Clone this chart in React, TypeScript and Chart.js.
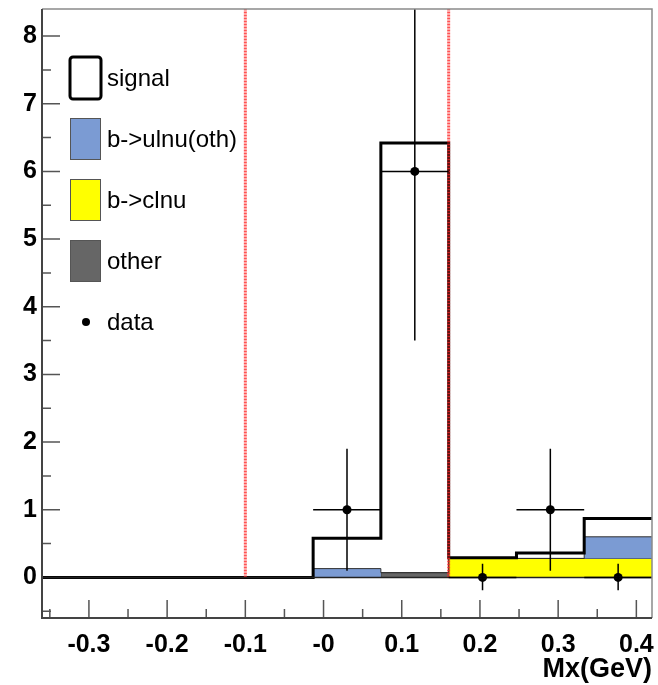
import React, { useEffect, useRef } from "react";
import { Chart, registerables } from "chart.js";
Chart.register(...registerables);

// ---- data ----
const binEdges = [-0.36, -0.2733, -0.1867, -0.1, -0.0133, 0.0733, 0.16, 0.2467, 0.3333, 0.42];
const clnu = [0, 0, 0, 0, 0, 0.005, 0.28, 0.28, 0.28];
const other = [0, 0, 0, 0, 0, 0.065, 0, 0, 0];
const ulnuOth = [0, 0, 0, 0, 0.13, 0, 0, 0, 0.32];
const signal = [0, 0, 0, 0, 0.45, 6.35, 0.01, 0.08, 0.27];

const dataX = [0.03, 0.1167, 0.2033, 0.29, 0.3767];
const dataY = [1, 6, 0, 1, 0];
const dataErrLow = [0.9, 2.5, 0.19, 0.9, 0.19];
const dataErrHigh = [0.9, 2.5, 0.2, 0.9, 0.2];
const dataXErr = [0.0433, 0.0433, 0.0433, 0.0433, 0.0433];

const cutLines = [-0.1, 0.16];

const xTickValues = [-0.3, -0.2, -0.1, 0, 0.1, 0.2, 0.3, 0.4];
const xTickLabels = ["-0.3", "-0.2", "-0.1", "-0", "0.1", "0.2", "0.3", "0.4"];
const xMinorTicks = [-0.35, -0.25, -0.15, -0.05, 0.05, 0.15, 0.25, 0.35];
const yTickValues = [0, 1, 2, 3, 4, 5, 6, 7, 8];
const yTickLabels = ["0", "1", "2", "3", "4", "5", "6", "7", "8"];
const yMinorTicks = [-0.5, 0.5, 1.5, 2.5, 3.5, 4.5, 5.5, 6.5, 7.5];

const legendLabels = ["signal", "b->ulnu(oth)", "b->clnu", "other", "data"];
const xTitle = "Mx(GeV)";

const X_MIN = -0.36, X_MAX = 0.42, Y_MIN = -0.6, Y_MAX = 8.4;

const COL_BLUE = "#7b9bd3";
const COL_YELLOW = "#ffff00";
const COL_GRAY = "#666666";

function cumulative(...layers: number[][]) {
  return layers[0].map((_, i) => layers.reduce((s, l) => s + l[i], 0));
}
function stepData(vals: number[]) {
  return binEdges.map((x, i) => ({ x, y: vals[Math.min(i, vals.length - 1)] }));
}

const FONT = '"Liberation Sans", Arial, Helvetica, sans-serif';

const decorPlugin = {
  id: "decor",
  beforeDatasetsDraw(chart: any) {
    const { ctx, chartArea: a, scales } = chart;
    const xs = scales.x, ys = scales.y;
    ctx.save();
    ctx.strokeStyle = "#555";
    ctx.lineWidth = 1.5;
    ctx.beginPath();
    yTickValues.forEach((v) => {
      const p = ys.getPixelForValue(v);
      ctx.moveTo(a.left, p);
      ctx.lineTo(a.left + 18, p);
    });
    yMinorTicks.forEach((v) => {
      const p = ys.getPixelForValue(v);
      ctx.moveTo(a.left, p);
      ctx.lineTo(a.left + 9, p);
    });
    xTickValues.forEach((v) => {
      const p = xs.getPixelForValue(v);
      ctx.moveTo(p, a.bottom);
      ctx.lineTo(p, a.bottom - 18);
    });
    xMinorTicks.forEach((v) => {
      const p = xs.getPixelForValue(v);
      ctx.moveTo(p, a.bottom);
      ctx.lineTo(p, a.bottom - 9);
    });
    ctx.stroke();
    ctx.restore();
  },
  afterDatasetsDraw(chart: any) {
    const { ctx, chartArea: a, scales } = chart;
    const xs = scales.x, ys = scales.y;
    ctx.save();
    ctx.beginPath();
    ctx.rect(a.left, a.top, a.right - a.left, a.bottom - a.top);
    ctx.clip();
    // zero line
    ctx.strokeStyle = "#222";
    ctx.lineWidth = 1.5;
    const y0 = ys.getPixelForValue(0);
    ctx.beginPath();
    ctx.moveTo(a.left, y0);
    ctx.lineTo(a.right, y0);
    ctx.stroke();
    // error bars
    ctx.strokeStyle = "#000";
    ctx.lineWidth = 1.5;
    dataX.forEach((x, i) => {
      const px = xs.getPixelForValue(x);
      const py = ys.getPixelForValue(dataY[i]);
      ctx.beginPath();
      ctx.moveTo(xs.getPixelForValue(x - dataXErr[i]), py);
      ctx.lineTo(xs.getPixelForValue(x + dataXErr[i]), py);
      ctx.moveTo(px, ys.getPixelForValue(dataY[i] - dataErrLow[i]));
      ctx.lineTo(px, ys.getPixelForValue(dataY[i] + dataErrHigh[i]));
      ctx.stroke();
    });
    ctx.restore();
  },
  afterDraw(chart: any) {
    const { ctx, chartArea: a } = chart;
    ctx.save();
    // frame
    ctx.strokeStyle = "#8a8a8a";
    ctx.lineWidth = 1.5;
    ctx.beginPath();
    ctx.moveTo(a.left, a.top);
    ctx.lineTo(a.right, a.top);
    ctx.lineTo(a.right, a.bottom);
    ctx.stroke();
    ctx.strokeStyle = "#444";
    ctx.lineWidth = 2;
    ctx.beginPath();
    ctx.moveTo(a.left, a.top);
    ctx.lineTo(a.left, a.bottom);
    ctx.lineTo(a.right, a.bottom);
    ctx.stroke();

    // legend
    const bx = 70, bw = 31, bh = 42, step = 61, top0 = 57;
    ctx.font = `24px ${FONT}`;
    ctx.textBaseline = "middle";
    ctx.textAlign = "left";
    const fills = [null, COL_BLUE, COL_YELLOW, COL_GRAY];
    for (let i = 0; i < 4; i++) {
      const by = top0 + i * step;
      if (i === 0) {
        ctx.fillStyle = "#fff";
        ctx.strokeStyle = "#000";
        ctx.lineWidth = 3;
        ctx.beginPath();
        (ctx as any).roundRect(bx, by, bw, bh, 3);
        ctx.fill();
        ctx.stroke();
      } else {
        ctx.fillStyle = fills[i] as string;
        ctx.strokeStyle = "#555";
        ctx.lineWidth = 1;
        ctx.fillRect(bx, by, bw, bh);
        ctx.strokeRect(bx + 0.5, by + 0.5, bw - 1, bh - 1);
      }
      ctx.fillStyle = "#000";
      ctx.fillText(legendLabels[i], 107, by + bh / 2 + 1);
    }
    const dy = 322;
    ctx.beginPath();
    ctx.arc(86, dy, 4, 0, Math.PI * 2);
    ctx.fillStyle = "#000";
    ctx.fill();
    ctx.fillText(legendLabels[4], 107, dy + 1);
    ctx.restore();
  },
};

export default function App() {
  const ref = useRef<HTMLCanvasElement>(null);
  useEffect(() => {
    if (!ref.current) return;
    const l1 = cumulative(clnu);
    const l2 = cumulative(clnu, other);
    const l3 = cumulative(clnu, other, ulnuOth);
    const l4 = cumulative(clnu, other, ulnuOth, signal);
    const stepCommon = { stepped: "before" as const, pointRadius: 0, tension: 0 };
    const datasets: any[] = [
      { ...stepCommon, label: legendLabels[2], data: stepData(l1), fill: "origin", backgroundColor: COL_YELLOW, borderColor: "#333", borderWidth: 1, order: 4 },
      { ...stepCommon, label: legendLabels[3], data: stepData(l2), fill: "-1", backgroundColor: COL_GRAY, borderColor: "#333", borderWidth: 1, order: 3 },
      { ...stepCommon, label: legendLabels[1], data: stepData(l3), fill: "-1", backgroundColor: COL_BLUE, borderColor: "#333", borderWidth: 1, order: 2 },
      { ...stepCommon, label: legendLabels[0], data: stepData(l4), fill: false, borderColor: "#000", borderWidth: 3, order: 1 },
      ...cutLines.map((c) => ({
        label: "cut",
        data: [{ x: c, y: 0 }, { x: c, y: Y_MAX }],
        borderColor: "rgba(255,40,40,0.8)",
        borderWidth: 3,
        borderDash: [2, 1],
        pointRadius: 0,
        fill: false,
        order: 0,
      })),
      {
        type: "scatter",
        label: legendLabels[4],
        data: dataX.map((x, i) => ({ x, y: dataY[i] })),
        pointRadius: 4.5,
        pointBackgroundColor: "#000",
        pointBorderWidth: 0,
        showLine: false,
        order: -1,
      },
    ];
    const chart = new Chart(ref.current, {
      type: "line",
      data: { datasets },
      options: {
        animation: false,
        responsive: false,
        devicePixelRatio: 1,
        layout: { padding: { top: 9, right: 6, left: 0, bottom: 0 } },
        plugins: { legend: { display: false }, tooltip: { enabled: false } },
        scales: {
          x: {
            type: "linear",
            min: X_MIN,
            max: X_MAX,
            grid: { display: false, drawTicks: false },
            border: { display: false },
            afterBuildTicks: (axis: any) => {
              axis.ticks = xTickValues.map((v) => ({ value: v }));
            },
            afterFit: (s: any) => {
              s.height = 67;
              s.paddingLeft = 0;
              s.paddingRight = 0;
            },
            ticks: {
              autoSkip: false,
              maxRotation: 0,
              padding: 12,
              color: "#000",
              font: { family: FONT, size: 25, weight: "bold" },
              callback: (_v: any, i: number) => xTickLabels[i],
            },
            title: {
              display: true,
              text: xTitle,
              align: "end",
              color: "#000",
              font: { family: FONT, size: 27, weight: "bold", lineHeight: 1.15 },
              padding: { top: 0, bottom: 0 },
            },
          },
          y: {
            type: "linear",
            min: Y_MIN,
            max: Y_MAX,
            grid: { display: false, drawTicks: false },
            border: { display: false },
            afterBuildTicks: (axis: any) => {
              axis.ticks = yTickValues.map((v) => ({ value: v }));
            },
            afterFit: (s: any) => {
              s.width = 42;
              s.paddingTop = 0;
              s.paddingBottom = 0;
            },
            ticks: {
              autoSkip: false,
              padding: 5,
              color: "#000",
              font: { family: FONT, size: 25, weight: "bold" },
              callback: (_v: any, i: number) => yTickLabels[i],
            },
          },
        },
      } as any,
      plugins: [decorPlugin],
    });
    return () => chart.destroy();
  }, []);
  return (
    <div style={{ position: "absolute", left: 0, top: 0, width: 658, height: 685, background: "#fff" }}>
      <canvas ref={ref} width={658} height={685} style={{ width: 658, height: 685, display: "block" }} />
    </div>
  );
}
